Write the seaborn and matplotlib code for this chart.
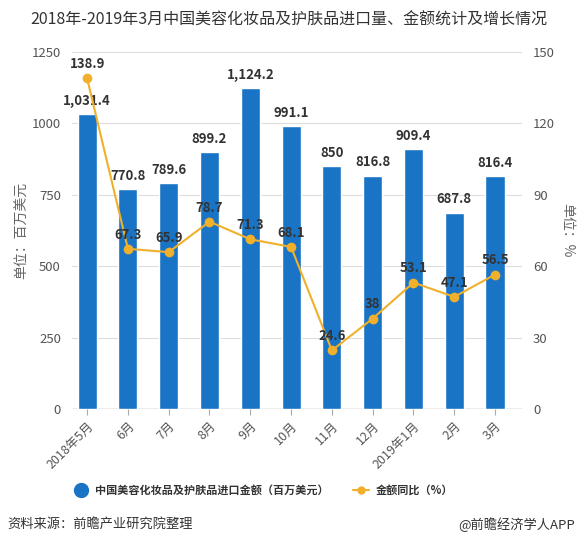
"""
    China beauty & skin care import value and YoY growth, 2018-05 to 2019-03.
"""
import matplotlib
matplotlib.use("Agg")
import matplotlib.pyplot as plt
from matplotlib.lines import Line2D
import seaborn as sns
import pandas as pd

#data
months = ['2018年5月', '6月', '7月', '8月', '9月', '10月', '11月', '12月', '2019年1月', '2月', '3月']
amount = [1031.4, 770.8, 789.6, 899.2, 1124.2, 991.1, 850, 816.8, 909.4, 687.8, 816.4]
growth = [138.9, 67.3, 65.9, 78.7, 71.3, 68.1, 24.6, 38, 53.1, 47.1, 56.5]
amount_labels = ['1,031.4', '770.8', '789.6', '899.2', '1,124.2', '991.1', '850', '816.8', '909.4', '687.8', '816.4']
growth_labels = ['138.9', '67.3', '65.9', '78.7', '71.3', '68.1', '24.6', '38', '53.1', '47.1', '56.5']

sns.set_style('white')
plt.rcParams['font.family'] = ['Noto Sans CJK SC', 'DejaVu Sans']

bar_color = '#1a74c6'
line_color = '#f0b02c'
text_color = '#333333'

df = pd.DataFrame({'month': months, 'amount': amount, 'growth': growth})

fig = plt.figure(figsize=(5.78, 5.42), dpi=100)
ax = fig.add_axes([0.1246, 0.2454, 0.7785, 0.6587])
ax2 = ax.twinx()

sns.barplot(data=df, x='month', y='amount', color=bar_color, width=0.47,
            saturation=1, ax=ax, zorder=2)
sns.lineplot(x=range(len(months)), y=growth, color=line_color, lw=1.5,
             marker='o', markersize=7, markeredgewidth=0, ax=ax2, zorder=3)

ax.set_ylim(0, 1250)
ax.set_yticks([0, 250, 500, 750, 1000, 1250])
ax2.set_ylim(0, 150)
ax2.set_yticks([0, 30, 60, 90, 120, 150])
ax.set_xlim(-0.37, len(months) - 0.34)

ax.yaxis.grid(True, color='#dddddd', lw=0.8, zorder=0)
for a in (ax, ax2):
    for s in ['top', 'left', 'right', 'bottom']:
        a.spines[s].set_visible(False)
ax.axhline(0, color='#aaaaaa', lw=1, zorder=1)

ax.tick_params(axis='y', length=0, labelsize=9.5, labelcolor='#555555', pad=8)
ax2.tick_params(axis='y', length=0, labelsize=9.5, labelcolor='#555555', pad=8)
ax.tick_params(axis='x', length=4, color='#aaaaaa', labelsize=9, labelcolor='#555555', bottom=True)
ax.set_xticks(range(len(months)))
ax.set_xticklabels(months, rotation=45, ha='right', rotation_mode='anchor')
ax.set_xlabel('')
ax.set_ylabel('单位：百万美元', fontsize=10, color='#666666', labelpad=2)
ax2.set_ylabel('单位：%', fontsize=10, color='#666666', rotation=270, labelpad=14)

for i, (v, t) in enumerate(zip(amount, amount_labels)):
    ax.text(i, v + 22, t, ha='center', va='bottom', fontsize=9.5, fontweight='bold', color=text_color, zorder=5)
for i, (v, t) in enumerate(zip(growth, growth_labels)):
    ax2.text(i, v + 3, t, ha='center', va='bottom', fontsize=9.5, fontweight='bold', color=text_color, zorder=5)

ax2.set_zorder(ax.get_zorder() + 1)
ax2.patch.set_visible(False)

handles = [Line2D([], [], marker='o', ls='', color=bar_color, markersize=10),
           Line2D([], [], marker='o', color=line_color, lw=1.5, markersize=5)]
leg = fig.legend(handles, ['中国美容化妆品及护肤品进口金额（百万美元）', '金额同比（%）'],
                 loc='center', bbox_to_anchor=(0.455, 0.095), ncol=2, frameon=False,
                 fontsize=8, handlelength=1.4, handletextpad=0.6, columnspacing=2.2)
for t in leg.get_texts():
    t.set_fontweight('bold')
    t.set_color(text_color)

fig.text(0.5, 0.962, '2018年-2019年3月中国美容化妆品及护肤品进口量、金额统计及增长情况',
         ha='center', va='center', fontsize=11.5, color='#333333')
fig.text(0.012, 0.032, '资料来源：前瞻产业研究院整理', ha='left', va='center',
         fontsize=9.5, style='italic', color='#333333')
fig.text(0.995, 0.032, '@前瞻经济学人APP', ha='right', va='center', fontsize=9.5, color='#333333')

fig.savefig('out.png', dpi=100)
